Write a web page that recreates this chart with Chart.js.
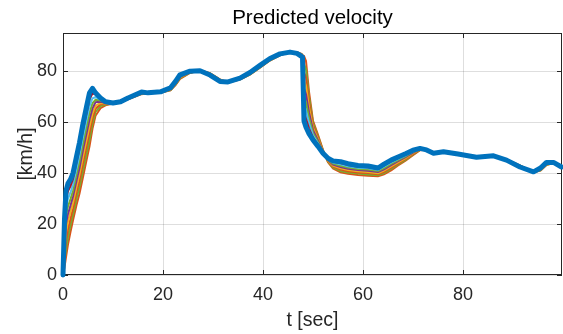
<!DOCTYPE html>
<html lang="en">
<head>
<meta charset="UTF-8">
<title>Predicted velocity</title>
<script src="https://cdn.jsdelivr.net/npm/chart.js"></script>
<style>
  html, body { margin: 0; padding: 0; background: #fff; }
</style>
</head>
<body>
<canvas id="velChart" width="563" height="334"></canvas>
<script>
// time [sec]
const timeSec = [0, 0.3, 0.6, 1, 1.5, 2, 2.7, 3.3, 4, 4.7, 5.3, 5.9, 6.5, 7.5, 8.5, 10, 11.5, 13, 15.7, 17,
  19.5, 21.5, 22.5, 23.4, 25.4, 27.4, 29.4, 31.4, 33, 35.4, 37.4, 39.4, 41.4, 43.4, 45.4, 46.8, 47.7, 47.9, 48.2, 48.6,
  49.2, 50, 51, 52, 53, 54, 55.5, 57, 59, 61, 63, 64.2, 65.7, 67, 68.5, 70, 71.4, 72.7, 74.1, 76.1,
  79, 82.7, 86.1, 88.7, 91.4, 94.1, 95.5, 96.7, 98.1, 99.7];

// measured velocity [km/h] (thick blue line)
const velocity = [0, 22, 33, 36, 37.5, 40, 46.5, 52, 59.5, 66, 71.5, 73.3, 71.5, 69.5, 68, 67.5, 68, 69.5, 71.8, 71.5,
  71.9, 73.5, 76, 78.6, 80, 80.2, 78.5, 76, 75.8, 77.3, 79.5, 82.3, 85, 86.8, 87.5, 87, 85.8, 85.5, 60.5, 58,
  55.5, 53, 50.5, 47.8, 45.8, 44.8, 44.5, 43.7, 43, 42.8, 42, 43.5, 45.2, 46.3, 47.6, 49, 49.7, 49.1, 47.8, 48.4,
  47.5, 46.2, 46.8, 45.1, 42.4, 40.5, 42, 44.2, 44.2, 42.4];

// predicted trajectories, nearest to the measured line first
const pred1 = [0, 19.6, 29.8, 33, 34.9, 37.7, 44.1, 49.5, 56.9, 63.4, 68.9, 71.3, 70.8, 69.2, 67.9, 67.5, 68, 69.4, 71.7, 71.5,
  71.9, 73.4, 75.8, 78.4, 79.9, 80.2, 78.6, 76.1, 75.8, 77.2, 79.4, 82.2, 84.9, 86.7, 87.5, 87, 85.9, 85.6, 63.7, 61.3,
  57.6, 53.9, 51.1, 47.9, 45.6, 44.4, 44, 43.2, 42.5, 42.3, 41.6, 43, 44.7, 45.9, 47.3, 48.8, 49.6, 49.1, 47.9, 48.4,
  47.5, 46.2, 46.8, 45.1, 42.5, 40.5, 41.9, 44.1, 44.2, 42.5];
const pred2 = [0, 17.3, 26.5, 30, 32.4, 35.4, 41.8, 47, 54.3, 60.8, 66.3, 69.4, 69.8, 68.9, 67.8, 67.5, 68, 69.4, 71.6, 71.5,
  71.8, 73.3, 75.6, 78.2, 79.8, 80.2, 78.7, 76.2, 75.8, 77.2, 79.3, 82.1, 84.8, 86.7, 87.5, 87.1, 86, 85.7, 66.9, 64.5,
  59.6, 54.9, 51.6, 48.1, 45.4, 44.1, 43.5, 42.7, 42.1, 41.9, 41.2, 42.5, 44.2, 45.5, 46.9, 48.5, 49.5, 49.1, 47.9, 48.3,
  47.5, 46.2, 46.8, 45.2, 42.6, 40.5, 41.8, 44, 44.2, 42.5];
const pred3 = [0, 14.9, 23.3, 27, 29.8, 33.1, 39.4, 44.5, 51.6, 58.1, 63.6, 67.4, 68.8, 68.5, 67.7, 67.4, 68, 69.3, 71.5, 71.4,
  71.8, 73.1, 75.4, 78, 79.7, 80.3, 78.8, 76.3, 75.7, 77.1, 79.2, 82, 84.7, 86.6, 87.5, 87.1, 86.2, 85.8, 70.1, 67.8,
  61.7, 55.8, 52.2, 48.3, 45.2, 43.7, 42.9, 42.2, 41.6, 41.4, 40.8, 42, 43.7, 45.1, 46.6, 48.3, 49.4, 49.1, 48, 48.3,
  47.5, 46.1, 46.7, 45.2, 42.6, 40.5, 41.6, 43.8, 44.1, 42.6];
const pred4 = [0, 12.5, 20, 24, 27.3, 30.8, 37, 42, 49, 55.5, 61, 65.4, 67.8, 68, 67.5, 67.4, 68, 69.3, 71.4, 71.4,
  71.7, 73, 75.3, 77.8, 79.7, 80.3, 78.9, 76.4, 75.7, 77, 79.1, 81.9, 84.6, 86.5, 87.5, 87.2, 86.3, 85.9, 73.3, 71,
  63.8, 56.8, 52.8, 48.4, 45.1, 43.3, 42.4, 41.7, 41.2, 40.9, 40.4, 41.5, 43.2, 44.7, 46.3, 48, 49.4, 49.1, 48, 48.3,
  47.5, 46.1, 46.7, 45.2, 42.7, 40.5, 41.5, 43.7, 44.1, 42.6];
const pred5 = [0, 10.1, 16.8, 21, 24.7, 28.4, 34.6, 39.5, 46.4, 52.9, 58.4, 63.4, 66.5, 67.5, 67.3, 67.4, 67.9, 69.2, 71.3, 71.4,
  71.7, 72.9, 75.1, 77.6, 79.6, 80.3, 78.9, 76.5, 75.7, 77, 79.1, 81.8, 84.6, 86.5, 87.5, 87.2, 86.3, 85.9, 76.4, 74.3,
  65.8, 57.7, 53.3, 48.6, 44.9, 42.9, 41.9, 41.2, 40.7, 40.4, 40, 41, 42.7, 44.2, 45.9, 47.8, 49.3, 49.2, 48, 48.2,
  47.5, 46.1, 46.7, 45.3, 42.7, 40.4, 41.4, 43.6, 44.1, 42.6];
const pred6 = [0, 7.8, 13.5, 18, 22.1, 26.1, 32.3, 37, 43.8, 50.3, 55.8, 61.5, 65.3, 67, 67.1, 67.3, 67.9, 69.1, 71.2, 71.4,
  71.6, 72.8, 74.9, 77.4, 79.5, 80.3, 79, 76.6, 75.7, 76.9, 79, 81.7, 84.5, 86.4, 87.5, 87.3, 86.5, 86, 79.6, 77.5,
  67.9, 58.6, 53.9, 48.7, 44.7, 42.6, 41.4, 40.7, 40.2, 40, 39.6, 40.5, 42.2, 43.8, 45.6, 47.5, 49.2, 49.2, 48.1, 48.2,
  47.5, 46.1, 46.7, 45.3, 42.8, 40.4, 41.3, 43.5, 44.1, 42.7];
const pred7 = [0, 5.4, 10.3, 15, 19.6, 23.8, 29.9, 34.5, 41.1, 47.6, 53.1, 59.5, 64, 66.3, 66.9, 67.3, 67.9, 69.1, 71.1, 71.3,
  71.6, 72.6, 74.7, 77.2, 79.4, 80.4, 79.1, 76.7, 75.6, 76.8, 78.8, 81.5, 84.3, 86.3, 87.5, 87.3, 86.7, 86.2, 82.8, 80.8,
  69.9, 59.6, 54.4, 48.9, 44.5, 42.2, 40.8, 40.2, 39.8, 39.5, 39.2, 40, 41.7, 43.4, 45.2, 47.3, 49.1, 49.2, 48.1, 48.1,
  47.5, 46, 46.6, 45.3, 42.9, 40.4, 41.1, 43.3, 44, 42.7];
const pred8 = [0, 3, 7, 12, 17, 21.5, 27.5, 32, 38.5, 45, 50.5, 57.5, 62.5, 65.5, 66.6, 67.3, 67.9, 69, 71, 71.3,
  71.5, 72.5, 74.5, 77, 79.3, 80.4, 79.2, 76.8, 75.6, 76.7, 78.7, 81.4, 84.2, 86.2, 87.5, 87.4, 86.8, 86.3, 86, 84,
  72, 60.5, 55, 49, 44.3, 41.8, 40.3, 39.7, 39.3, 39, 38.8, 39.5, 41.2, 43, 44.9, 47, 49, 49.2, 48.2, 48.1,
  47.5, 46, 46.6, 45.4, 43, 40.4, 41, 43.2, 44, 42.8];

const xTicks = [0, 20, 40, 60, 80];
const yTicks = [0, 20, 40, 60, 80];
const chartTitle = 'Predicted velocity';

const predSeries = [pred1, pred2, pred3, pred4, pred5, pred6, pred7, pred8];
const predColors = ['#A2142F', '#4DBEEE', '#77AC30', '#7E2F8E', '#EDB120', '#D95319', '#77AC30', '#D95319'];

const FONT = "'Liberation Sans', Arial, Helvetica, sans-serif";
const AX = '#262626';

function toPoints(vals) {
  return vals.map((v, i) => ({ x: timeSec[i], y: v }));
}

// draw predictions first, the measured line last so it sits on top
const datasets = predSeries.map((s, i) => ({
  data: toPoints(s),
  borderColor: predColors[i],
  borderWidth: 2,
  pointRadius: 0,
  clip: false,
  order: 1
}));
datasets.push({
  data: toPoints(velocity),
  borderColor: '#0072BD',
  borderWidth: 5,
  borderJoinStyle: 'round',
  borderCapStyle: 'round',
  pointRadius: 0,
  clip: false,
  order: 0
});

// MATLAB style box with inward ticks, title centred over the axes
const boxPlugin = {
  id: 'box',
  beforeDatasetsDraw(chart) {
    const { ctx, chartArea: a, scales } = chart;
    ctx.save();
    ctx.strokeStyle = AX;
    ctx.lineWidth = 1;
    ctx.strokeRect(a.left + 0.5, a.top + 0.5, a.right - a.left - 1, a.bottom - a.top - 1);
    ctx.beginPath();
    xTicks.forEach(v => {
      const px = Math.round(scales.x.getPixelForValue(v)) + 0.5;
      ctx.moveTo(px, a.bottom); ctx.lineTo(px, a.bottom - 5);
      ctx.moveTo(px, a.top); ctx.lineTo(px, a.top + 5);
    });
    yTicks.forEach(v => {
      const py = Math.round(scales.y.getPixelForValue(v)) + 0.5;
      ctx.moveTo(a.left, py); ctx.lineTo(a.left + 5, py);
      ctx.moveTo(a.right, py); ctx.lineTo(a.right - 5, py);
    });
    ctx.stroke();
    ctx.restore();
  },
  afterDraw(chart) {
    const { ctx, chartArea: a } = chart;
    ctx.save();
    ctx.fillStyle = '#000';
    ctx.font = '20.5px ' + FONT;
    ctx.textAlign = 'center';
    ctx.textBaseline = 'middle';
    ctx.fillText(chartTitle, (a.left + a.right) / 2, 18);
    ctx.restore();
  }
};

new Chart(document.getElementById('velChart').getContext('2d'), {
  type: 'line',
  data: { datasets: datasets },
  options: {
    responsive: false,
    animation: false,
    devicePixelRatio: 1,
    layout: { padding: { left: 0, right: 1, top: 33, bottom: 0 } },
    plugins: {
      legend: { display: false },
      tooltip: { enabled: false },
      title: { display: false }
    },
    scales: {
      x: {
        type: 'linear',
        min: 0,
        max: 99.8,
        afterBuildTicks: s => { s.ticks = xTicks.map(v => ({ value: v })); },
        afterFit: s => { s.height = 59; },
        grid: { color: 'rgba(0,0,0,0.13)', drawTicks: false },
        border: { display: false },
        ticks: { color: AX, font: { family: FONT, size: 18 }, padding: 9, maxRotation: 0 },
        title: { display: true, text: 't [sec]', color: AX, font: { family: FONT, size: 19.5 }, padding: { top: 0, bottom: 2 } }
      },
      y: {
        type: 'linear',
        min: 0,
        max: 95,
        afterBuildTicks: s => { s.ticks = yTicks.map(v => ({ value: v })); },
        afterFit: s => { s.width = 63; },
        grid: { color: 'rgba(0,0,0,0.13)', drawTicks: false },
        border: { display: false },
        ticks: { color: AX, font: { family: FONT, size: 18 }, padding: 6 },
        title: { display: true, text: '[km/h]', color: AX, font: { family: FONT, size: 19.5 }, padding: { top: 15, bottom: 0 } }
      }
    }
  },
  plugins: [boxPlugin]
});
</script>
</body>
</html>
